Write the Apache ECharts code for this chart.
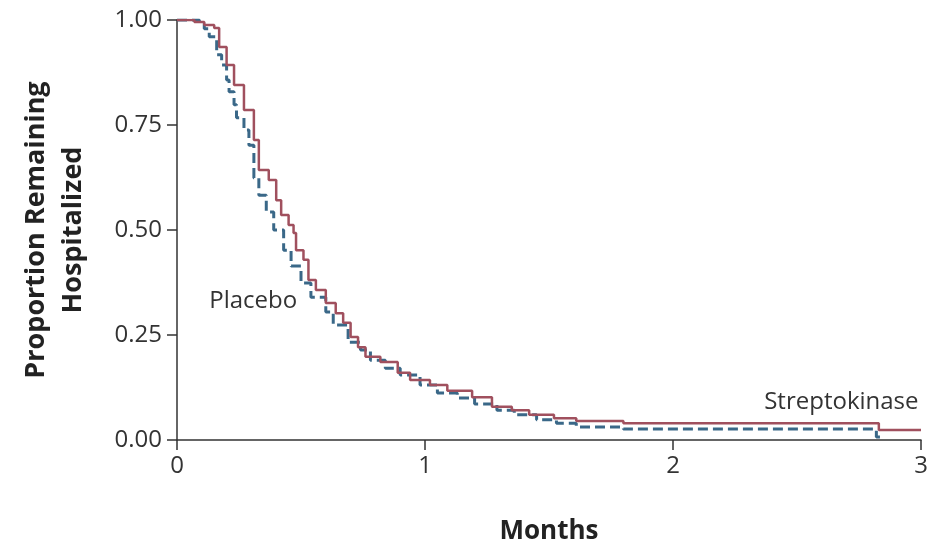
<!DOCTYPE html>
<html>
<head>
<meta charset="utf-8">
<script src="https://cdn.jsdelivr.net/npm/echarts@6/dist/echarts.min.js"></script>
<style>
html,body{margin:0;padding:0;background:#fff;}
#c{width:943px;height:547px;}
</style>
</head>
<body>
<div id="c"></div>
<script>
// Months and proportion remaining hospitalized (Kaplan-Meier steps)
var streptoMonths = [0.00,0.07,0.11,0.15,0.17,0.20,0.23,0.27,0.31,0.33,0.37,0.40,0.42,0.45,0.47,0.48,0.51,0.53,0.56,0.60,0.64,0.67,0.70,0.73,0.76,0.82,0.89,0.94,1.02,1.09,1.19,1.27,1.35,1.42,1.52,1.61,1.80,2.83,3.00];
var streptoValues = [1.000,0.995,0.988,0.981,0.936,0.893,0.845,0.786,0.714,0.643,0.619,0.571,0.536,0.512,0.493,0.452,0.429,0.381,0.357,0.326,0.302,0.279,0.245,0.221,0.198,0.186,0.160,0.143,0.131,0.117,0.102,0.079,0.071,0.060,0.052,0.045,0.040,0.024,0.024];
var placeboMonths = [0.00,0.09,0.11,0.13,0.16,0.18,0.20,0.21,0.23,0.24,0.27,0.29,0.31,0.33,0.36,0.39,0.43,0.46,0.50,0.54,0.60,0.63,0.69,0.74,0.78,0.84,0.90,0.98,1.05,1.13,1.20,1.29,1.36,1.45,1.53,1.61,1.80,2.82,2.85];
var placeboValues = [1.000,0.990,0.979,0.960,0.917,0.893,0.857,0.829,0.798,0.767,0.738,0.702,0.624,0.583,0.543,0.500,0.452,0.414,0.374,0.340,0.305,0.274,0.233,0.214,0.190,0.171,0.155,0.131,0.112,0.100,0.086,0.071,0.060,0.048,0.040,0.031,0.026,0.007,0.007];
var xTicks = [0,1,2,3];
var yTicks = [0,0.25,0.5,0.75,1];

function pairs(xs, ys){ return xs.map(function(x,i){ return [x, ys[i]]; }); }

var chart = echarts.init(document.getElementById('c'));
var font = "'Open Sans', 'DejaVu Sans', sans-serif";
chart.setOption({
  animation:false,
  backgroundColor:'#fff',
  grid:{left:177,right:22,top:20,bottom:107,containLabel:false,outerBoundsMode:'none'},
  xAxis:{
    type:'value',min:xTicks[0],max:xTicks[xTicks.length-1],interval:1,
    axisLine:{lineStyle:{color:'#333',width:1.5}},
    axisTick:{show:true,length:10,inside:false,lineStyle:{color:'#333',width:1.5}},
    splitLine:{show:false},
    axisLabel:{margin:14,fontSize:24,color:'#333',fontFamily:font},
    name:'Months',nameLocation:'middle',nameGap:79,
    nameTextStyle:{fontSize:26,fontWeight:'bold',color:'#222',fontFamily:font}
  },
  yAxis:{
    type:'value',min:yTicks[0],max:yTicks[yTicks.length-1],interval:0.25,
    axisLine:{show:true,lineStyle:{color:'#333',width:1.5}},
    axisTick:{show:true,length:10,lineStyle:{color:'#333',width:1.5}},
    splitLine:{show:false},
    axisLabel:{margin:15,fontSize:24,color:'#333',fontFamily:font,formatter:function(v){return v.toFixed(2);}},
    name:'Proportion Remaining\nHospitalized',nameLocation:'middle',nameGap:85,
    nameTextStyle:{fontSize:27,fontWeight:'bold',color:'#222',fontFamily:font,lineHeight:37,align:'center'}
  },
  series:[
    {
      name:'Placebo',type:'line',step:'end',showSymbol:false,
      data:pairs(placeboMonths,placeboValues),
      lineStyle:{color:'#3a6888',width:3,type:[10,5]},
      z:2,
      markPoint:{symbol:'circle',symbolSize:0,
        data:[{coord:[0.13,0.33],value:'Placebo'}],
        label:{show:true,formatter:'Placebo',position:'right',distance:0,fontSize:24,color:'#333',fontFamily:font}}
    },
    {
      name:'Streptokinase',type:'line',step:'end',showSymbol:false,
      data:pairs(streptoMonths,streptoValues),
      lineStyle:{color:'#a0505e',width:2.5},
      z:3,
      markPoint:{symbol:'circle',symbolSize:0,
        data:[{coord:[2.99,0.09],value:'Streptokinase'}],
        label:{show:true,formatter:'Streptokinase',position:'left',distance:0,fontSize:24,color:'#333',fontFamily:font}}
    }
  ]
});
</script>
</body>
</html>
